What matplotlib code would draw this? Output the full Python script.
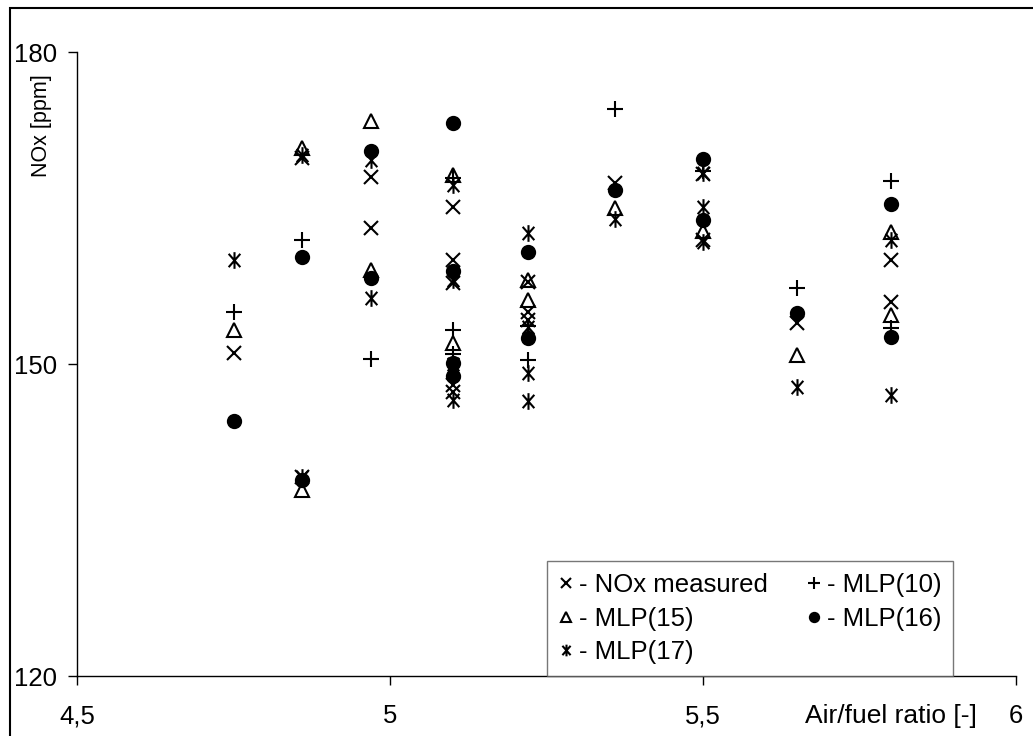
import numpy as np
import matplotlib.pyplot as plt
from matplotlib.path import Path
from matplotlib.patches import Rectangle

plt.rcParams['font.family'] = ['Liberation Sans', 'DejaVu Sans']

# Data (air/fuel ratio, NOx ppm)
x_meas = [4.75, 4.86, 4.86, 4.97, 4.97, 5.10, 5.10, 5.10, 5.10, 5.10,
          5.22, 5.22, 5.22, 5.36, 5.50, 5.50, 5.65, 5.80, 5.80]
y_meas = [151.1, 169.8, 139.1, 168.0, 163.1, 165.1, 160.0, 157.8, 148.0, 147.3,
          157.9, 155.0, 154.2, 167.4, 168.3, 161.9, 153.9, 160.0, 156.0]

x_mlp10 = [4.75, 4.86, 4.97, 5.10, 5.10, 5.10, 5.22, 5.22, 5.36, 5.50, 5.65, 5.80, 5.80]
y_mlp10 = [155.0, 161.9, 150.5, 167.9, 153.3, 151.0, 153.7, 150.4, 174.5, 168.6, 157.3, 167.6, 153.5]

x_mlp15 = [4.75, 4.86, 4.86, 4.97, 4.97, 5.10, 5.10, 5.22, 5.22, 5.36, 5.50, 5.65, 5.80, 5.80]
y_mlp15 = [153.3, 170.8, 137.9, 173.4, 159.0, 168.2, 152.0, 158.1, 156.2, 165.0, 162.8, 150.9, 162.7, 154.7]

x_mlp16 = [4.75, 4.86, 4.86, 4.97, 4.97, 5.10, 5.10, 5.10, 5.10, 5.22, 5.22,
           5.36, 5.50, 5.50, 5.65, 5.80, 5.80]
y_mlp16 = [144.5, 160.3, 138.8, 170.5, 158.3, 173.2, 158.9, 150.1, 148.8, 160.8, 152.5,
           166.7, 169.7, 163.8, 154.9, 165.4, 152.6]

x_mlp17 = [4.75, 4.86, 4.86, 4.97, 4.97, 5.10, 5.10, 5.10, 5.10, 5.22, 5.22, 5.22, 5.22,
           5.36, 5.50, 5.50, 5.50, 5.65, 5.80, 5.80]
y_mlp17 = [160.0, 170.1, 139.1, 169.6, 156.3, 167.2, 158.1, 150.0, 146.5, 162.6, 153.6, 149.1, 146.4,
           163.9, 168.4, 165.1, 161.7, 147.8, 161.9, 147.0]

xtick_vals = [4.5, 5, 5.5, 6]
xtick_labels = ['4,5', '5', '5,5', '6']
ytick_vals = [120, 150, 180]

# asterisk: x with a vertical bar
star = Path([(0, -1), (0, 1), (-0.7, -0.8), (0.7, 0.8), (-0.7, 0.8), (0.7, -0.8)],
            [Path.MOVETO, Path.LINETO, Path.MOVETO, Path.LINETO, Path.MOVETO, Path.LINETO])

W, H = 1033, 736
fig = plt.figure(figsize=(W / 100, H / 100), dpi=100)
ax = fig.add_axes([77 / W, 1 - 676 / H, (1016 - 77) / W, (676 - 52) / H])

kw = dict(linestyle='none', color='black', markeredgewidth=1.5)
ax.plot(x_meas, y_meas, marker='x', markersize=10.5, label='- NOx measured', **kw)
ax.plot(x_mlp15, y_mlp15, marker='^', markersize=9.5, markerfacecolor='none', label='- MLP(15)', **kw)
ax.plot(x_mlp17, y_mlp17, marker=star, markersize=12, label='- MLP(17)', **kw)
ax.plot(x_mlp10, y_mlp10, marker='+', markersize=12, label='- MLP(10)', **kw)
ax.plot(x_mlp16, y_mlp16, marker='o', markersize=9.5, label='- MLP(16)', **kw)

ax.set_xlim(4.5, 6)
ax.set_ylim(120, 180)
ax.set_xticks(xtick_vals)
ax.set_xticklabels(xtick_labels)
ax.set_yticks(ytick_vals)
ax.spines['top'].set_visible(False)
ax.spines['right'].set_visible(False)
for s in ['left', 'bottom']:
    ax.spines[s].set_linewidth(1.0)
ax.tick_params(axis='both', direction='out', length=6.5, width=1.0, labelsize=18.5)
ax.tick_params(axis='x', pad=14)
ax.tick_params(axis='y', pad=8)

fig.text(42 / W, 1 - 126 / H, 'NOx [ppm]', rotation=90, ha='center', va='center', fontsize=15.5)
fig.text(977 / W, 1 - 716 / H, 'Air/fuel ratio [-]', ha='right', va='center', fontsize=19)

leg = ax.legend(ncol=2, loc='lower left', bbox_to_anchor=(0.5005, 0), borderaxespad=0,
                fontsize=18.5, frameon=True, fancybox=False, markerscale=0.7,
                handlelength=0.6, handletextpad=0.2, columnspacing=1.5,
                labelspacing=0.38, borderpad=0.45)
leg.get_frame().set_edgecolor('#555555')
leg.get_frame().set_linewidth(1.0)

fig.patches.append(Rectangle((10 / W, -0.2), 1.2, 1.2 - 8 / H, transform=fig.transFigure,
                             fill=False, edgecolor='black', linewidth=1.5, clip_on=False))

fig.savefig('out.png', dpi=100)
